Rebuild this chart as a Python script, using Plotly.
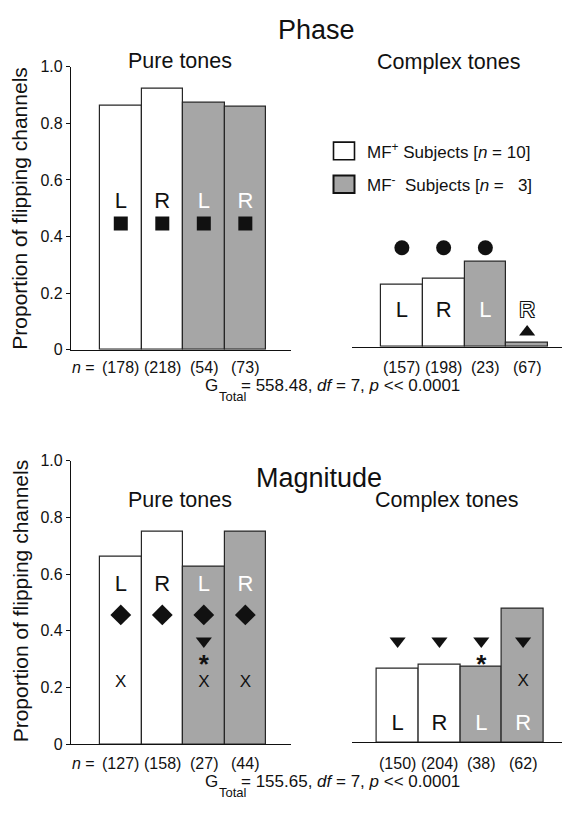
import plotly.graph_objects as go

W, H = 562, 813
FONT = "Liberation Sans, Arial, Helvetica, sans-serif"
INK = "#111111"
GREY = "#a6a6a6"

# ---------------- data ----------------
positions = [0, 1, 2, 3]
side_labels = ["L", "R", "L", "R"]
subject_group = ["MF+", "MF+", "MF-", "MF-"]

phase_pure = [0.862, 0.921, 0.873, 0.860]
phase_complex = [0.220, 0.240, 0.300, 0.013]
mag_pure = [0.660, 0.749, 0.625, 0.749]
mag_complex = [0.261, 0.272, 0.265, 0.472]

phase_pure_n = [178, 218, 54, 73]
phase_complex_n = [157, 198, 23, 67]
mag_pure_n = [127, 158, 27, 44]
mag_complex_n = [150, 204, 38, 62]

phase_pure_marks = [["square"], ["square"], ["square"], ["square"]]
phase_complex_marks = [["circle"], ["circle"], ["circle"], ["triangle-up"]]
mag_pure_marks = [["diamond", "X"], ["diamond"], ["diamond", "triangle-down", "*", "X"], ["diamond", "X"]]
mag_complex_marks = [["triangle-down"], ["triangle-down"], ["triangle-down", "*"], ["triangle-down", "X"]]

g_total_phase = "558.48"
g_total_mag = "155.65"
deg_freedom = 7

tick_vals = [0, 0.2, 0.4, 0.6, 0.8, 1.0]
tick_text = ["0", "0.2", "0.4", "0.6", "0.8", "1.0"]


# ---------------- helpers ----------------
def px(x):
    return x / W


def py(y):
    return 1 - y / H


panels = [
    dict(vals=phase_pure, n=phase_pure_n, marks=phase_pure_marks, xa="x", ya="y",
         letter_y=0.519, hollow_last=False, n_y=366.7,
         levels={"square": 0.446}),
    dict(vals=phase_complex, n=phase_complex_n, marks=phase_complex_marks, xa="x2", ya="y2",
         letter_y=0.125, hollow_last=True, n_y=366.7,
         levels={"circle": 0.35, "triangle-up": 0.052}),
    dict(vals=mag_pure, n=mag_pure_n, marks=mag_pure_marks, xa="x3", ya="y3",
         letter_y=0.559, hollow_last=False, n_y=771.7,
         levels={"diamond": 0.456, "triangle-down": 0.364, "*": 0.275, "X": 0.216}),
    dict(vals=mag_complex, n=mag_complex_n, marks=mag_complex_marks, xa="x4", ya="y4",
         letter_y=0.063, hollow_last=False, n_y=771.7,
         levels={"triangle-down": 0.357, "*": 0.266, "X": 0.213}),
]

marker_size = {"square": 14, "circle": 15, "diamond": 16, "triangle-up": 14, "triangle-down": 14}

fig = go.Figure()
annotations = []

for p in panels:
    fills = ["white" if g == "MF+" else GREY for g in subject_group]
    fig.add_trace(go.Bar(
        x=positions, y=p["vals"], width=1,
        marker=dict(color=fills, line=dict(color="#262626", width=1.2)),
        xaxis=p["xa"], yaxis=p["ya"], hoverinfo="skip",
    ))
    # L / R letters
    idx = [i for i in positions if not (p["hollow_last"] and i == 3)]
    fig.add_trace(go.Scatter(
        x=[positions[i] for i in idx], y=[p["letter_y"]] * len(idx),
        text=[side_labels[i] for i in idx], mode="text",
        textfont=dict(family=FONT, size=22,
                      color=[INK if subject_group[i] == "MF+" else "white" for i in idx]),
        xaxis=p["xa"], yaxis=p["ya"], hoverinfo="skip", cliponaxis=False,
    ))
    if p["hollow_last"]:
        fig.add_trace(go.Scatter(
            x=[positions[3]], y=[p["letter_y"]], text=[side_labels[3]], mode="text",
            textfont=dict(family=FONT, size=22, color="white",
                          shadow="-1px -1px 0 #111, 1px -1px 0 #111, -1px 1px 0 #111, 1px 1px 0 #111"),
            xaxis=p["xa"], yaxis=p["ya"], hoverinfo="skip", cliponaxis=False,
        ))
    # significance symbols
    for i, marks in zip(positions, p["marks"]):
        for m in marks:
            y = p["levels"][m]
            if m in marker_size:
                fig.add_trace(go.Scatter(
                    x=[i], y=[y], mode="markers",
                    marker=dict(symbol=m, size=marker_size[m], color=INK, line=dict(width=0)),
                    xaxis=p["xa"], yaxis=p["ya"], hoverinfo="skip", cliponaxis=False,
                ))
            else:
                fig.add_trace(go.Scatter(
                    x=[i], y=[y], mode="text", text=[m],
                    textfont=dict(family=FONT, size=26 if m == "*" else 17, color=INK,
                                  weight="bold" if m == "*" else "normal"),
                    xaxis=p["xa"], yaxis=p["ya"], hoverinfo="skip", cliponaxis=False,
                ))
    # n labels
    for i, n in zip(positions, p["n"]):
        annotations.append(dict(
            text=f"({n})", x=i, xref=p["xa"], y=py(p["n_y"]), yref="paper",
            showarrow=False, font=dict(family=FONT, size=16, color=INK),
            xanchor="center", yanchor="middle"))

# "n =" prefixes
for ny in (366.7, 771.7):
    annotations.append(dict(text="<i>n</i> =", x=px(97), y=py(ny), xref="paper", yref="paper",
                            xanchor="right", yanchor="middle", showarrow=False,
                            font=dict(family=FONT, size=16, color=INK)))

# G total lines
for gy, gval in ((386, g_total_phase), (790.5, g_total_mag)):
    annotations.append(dict(text="G", x=px(203), y=py(gy), xref="paper", yref="paper",
                            xanchor="left", yanchor="middle", showarrow=False,
                            font=dict(family=FONT, size=17, color=INK)))
    annotations.append(dict(text="Total", x=px(217), y=py(gy + 11), xref="paper", yref="paper",
                            xanchor="left", yanchor="middle", showarrow=False,
                            font=dict(family=FONT, size=13, color=INK)))
    annotations.append(dict(
        text=f"= {gval}, <i>df</i> = {deg_freedom}, <i>p</i> &lt;&lt; 0.0001",
        x=px(239), y=py(gy), xref="paper", yref="paper",
        xanchor="left", yanchor="middle", showarrow=False,
        font=dict(family=FONT, size=17, color=INK)))

# titles
for txt, x, y, s in (("Phase", 316, 22, 27), ("Magnitude", 319, 480, 27),
                     ("Pure tones", 180, 54, 21.5), ("Complex tones", 448, 55, 21.5),
                     ("Pure tones", 180, 502, 21.5), ("Complex tones", 446, 502, 21.5)):
    annotations.append(dict(text=txt, x=px(x), y=py(y), xref="paper", yref="paper",
                            xanchor="center", yanchor="middle", showarrow=False,
                            font=dict(family=FONT, size=s, color=INK)))

# y-axis titles
for y in (205, 606):
    annotations.append(dict(text="Proportion of flipping channels", x=px(20), y=py(y),
                            xref="paper", yref="paper", textangle=-90,
                            xanchor="center", yanchor="middle", showarrow=False,
                            font=dict(family=FONT, size=21, color=INK)))

# legend (drawn manually)
shapes = [
    dict(type="rect", xref="paper", yref="paper", x0=px(333.5), x1=px(354.5), y0=py(155), y1=py(137),
         fillcolor="white", line=dict(color=INK, width=1.6)),
    dict(type="rect", xref="paper", yref="paper", x0=px(333.5), x1=px(354.5), y0=py(189), y1=py(171),
         fillcolor=GREY, line=dict(color=INK, width=2)),
]
annotations.append(dict(text="MF<sup>+</sup> Subjects [<i>n</i> = 10]", x=px(365), y=py(146.5),
                        xref="paper", yref="paper", xanchor="left", yanchor="middle", showarrow=False,
                        font=dict(family=FONT, size=17, color=INK)))
annotations.append(dict(text="MF<sup>-</sup>\u00a0 Subjects [<i>n</i> =\u00a0\u00a0 3]", x=px(365), y=py(180),
                        xref="paper", yref="paper", xanchor="left", yanchor="middle", showarrow=False,
                        font=dict(family=FONT, size=17, color=INK)))

base_x = dict(showline=True, linecolor=INK, linewidth=1.3, ticks="", showticklabels=False,
              showgrid=False, zeroline=False, fixedrange=True)
base_y_vis = dict(range=[0, 1], showline=True, linecolor=INK, linewidth=1.2, ticks="outside",
                  ticklen=4, tickwidth=1.2, tickcolor=INK, tickvals=tick_vals, ticktext=tick_text,
                  tickfont=dict(family=FONT, size=16, color=INK), showgrid=False, zeroline=False,
                  fixedrange=True)
base_y_hid = dict(range=[0, 1], visible=False, showgrid=False, zeroline=False, fixedrange=True)

fig.update_layout(
    width=W, height=H, margin=dict(l=0, r=0, t=0, b=0),
    paper_bgcolor="white", plot_bgcolor="rgba(0,0,0,0)", showlegend=False,
    bargap=0,
    xaxis=dict(base_x, domain=[px(71), px(291)], range=[-1.199, 4.10], anchor="y"),
    yaxis=dict(base_y_vis, domain=[py(349), py(60)], anchor="x"),
    xaxis2=dict(base_x, domain=[px(352), 1], range=[-1.195, 3.835], anchor="y2"),
    yaxis2=dict(base_y_hid, domain=[py(346), py(57)], anchor="x2"),
    xaxis3=dict(base_x, domain=[px(71), px(291)], range=[-1.199, 4.10], anchor="y3"),
    yaxis3=dict(base_y_vis, domain=[py(752), py(462.3)], anchor="x3"),
    xaxis4=dict(base_x, domain=[px(351.7), 1], range=[-1.098, 3.93], anchor="y4"),
    yaxis4=dict(base_y_hid, domain=[py(750), py(460.3)], anchor="x4"),
    annotations=annotations, shapes=shapes,
)

fig.write_html(
    "out.html",
    config={"displayModeBar": False},
    post_script="document.body.style.margin='0px'; document.body.style.overflow='hidden';",
)
